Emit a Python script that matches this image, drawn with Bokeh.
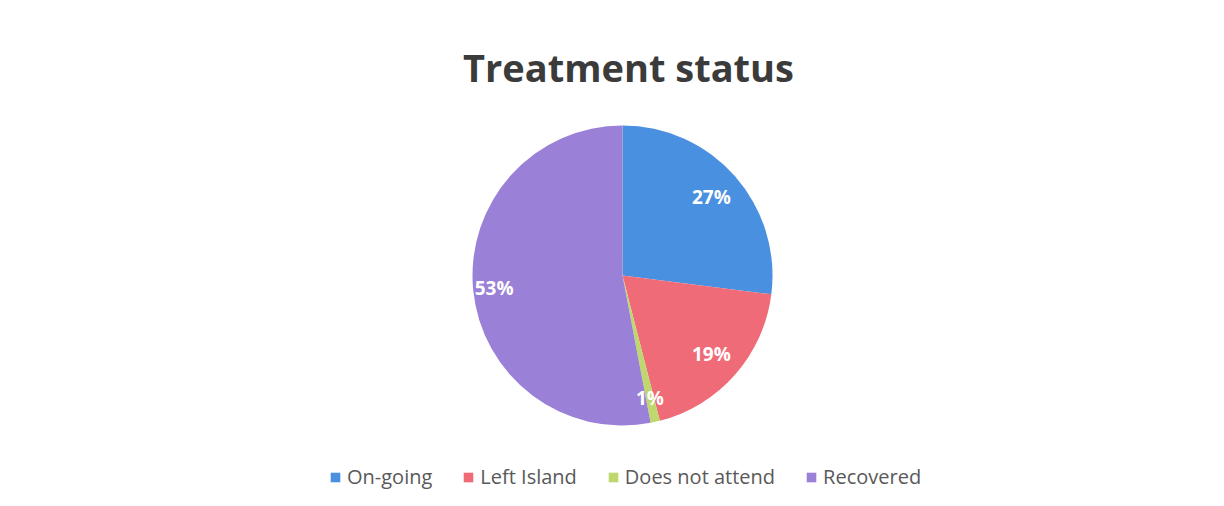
import math
from bokeh.plotting import figure
from bokeh.models import Range1d, Legend, LegendItem
from bokeh.core.properties import value
from bokeh.embed import file_html
from bokeh.resources import INLINE

# ---- data ----
categories = ["On-going", "Left Island", "Does not attend", "Recovered"]
percents = [27, 19, 1, 53]
colors = ["#4A90E0", "#F06B78", "#BED86E", "#9A80D6"]
title_text = "Treatment status"

# ---- layout (image pixel coordinates) ----
W, H = 1208, 490
CX, CY, R = 622, 275, 150
LABEL_FRAC = [0.79, 0.79, 0.84, 0.86]
FONT = "Open Sans"

def fy(y):
    return H - y

p = figure(width=W, height=H, output_backend="svg", toolbar_location=None,
           x_range=Range1d(0, W), y_range=Range1d(0, H),
           min_border=0, outline_line_color=None)
p.axis.visible = False
p.grid.visible = False
p.background_fill_color = "white"
p.border_fill_color = "white"

total = sum(percents)
cum = 0.0
starts, ends, mids = [], [], []
for v in percents:
    a0 = cum / total
    cum += v
    a1 = cum / total
    starts.append(math.pi / 2 - a0 * 2 * math.pi)
    ends.append(math.pi / 2 - a1 * 2 * math.pi)
    mids.append(math.pi / 2 - (a0 + a1) / 2 * 2 * math.pi)

renderers = []
for i in range(len(categories)):
    r = p.wedge(x=CX, y=fy(CY), radius=R, start_angle=starts[i], end_angle=ends[i],
                direction="clock", fill_color=colors[i], line_color=None)
    renderers.append(r)

lx = [CX + LABEL_FRAC[i] * R * math.cos(mids[i]) for i in range(len(percents))]
ly = [fy(CY) + LABEL_FRAC[i] * R * math.sin(mids[i]) for i in range(len(percents))]
labels = [f"{v}%" for v in percents]
p.text(x=lx, y=ly, text=labels, text_color="white", text_font=value(FONT),
       text_font_style="bold", text_font_size="19px",
       text_align="center", text_baseline="middle")

p.text(x=[628], y=[fy(66)], text=[title_text], text_color="#3B3B3B",
       text_font=value(FONT), text_font_style="bold", text_font_size="38px",
       text_align="center", text_baseline="middle")

legend = Legend(items=[LegendItem(label=c, renderers=[r]) for c, r in zip(categories, renderers)],
                orientation="horizontal", location=(329, 0),
                label_text_font=FONT, label_text_font_size="20px",
                label_text_color="#595959", glyph_width=12, glyph_height=12,
                label_standoff=6, spacing=30, padding=0, margin=0,
                border_line_color=None, background_fill_alpha=0)
p.add_layout(legend, "center")

open("out.html", "w").write(file_html(p, INLINE))
